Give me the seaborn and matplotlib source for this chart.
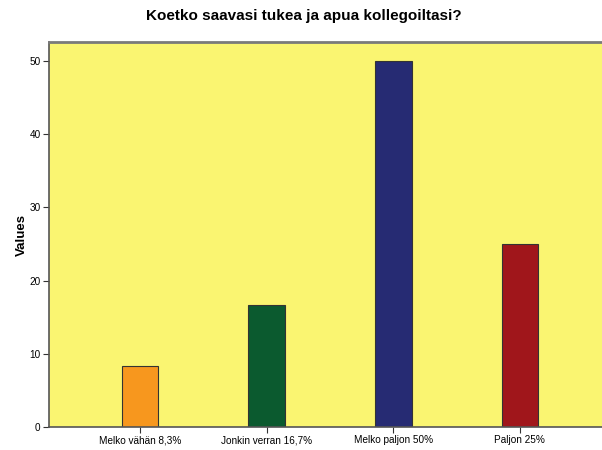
import matplotlib
matplotlib.use("Agg")
import matplotlib.pyplot as plt
import seaborn as sns
import pandas as pd

categories = ["Melko vähän 8,3%", "Jonkin verran 16,7%", "Melko paljon 50%", "Paljon 25%"]
values = [8.3, 16.7, 50.0, 25.0]
bar_colors = ["#F7971E", "#0B5A2F", "#262B73", "#A0161B"]

df = pd.DataFrame({"cat": categories, "val": values})

sns.set_style("ticks")
plt.rcParams["font.family"] = ["Liberation Sans", "DejaVu Sans"]
plt.rcParams["text.color"] = "black"

fig = plt.figure(figsize=(6.02, 4.5), dpi=100)
ax = fig.add_axes([49 / 602, 23 / 450, 562 / 602, 385 / 450])
ax.set_facecolor("#FAF571")

sns.barplot(data=df, x="cat", y="val", hue="cat", palette=bar_colors,
            legend=False, width=0.29, saturation=1, edgecolor="#333333",
            linewidth=0.8, ax=ax)

ax.set_xlim(-0.72, 3.72)
ax.set_ylim(0, 52.6)
ax.set_yticks([0, 10, 20, 30, 40, 50])
ax.set_xlabel("")
ax.set_ylabel("Values", fontsize=9.5, fontweight="bold", labelpad=1, color="black")
ax.tick_params(axis="both", labelsize=7.2, length=4, width=0.8, color="#333333",
               labelcolor="black", pad=2)
for s in ax.spines.values():
    s.set_color("#555555")
    s.set_linewidth(1.2)
ax.spines["top"].set_color("#7a7a7a")
ax.spines["top"].set_linewidth(2)

fig.text(0.505, 0.965, "Koetko saavasi tukea ja apua kollegoiltasi?",
         ha="center", va="center", fontsize=11, fontweight="bold")

fig.savefig("out.png", dpi=100)
